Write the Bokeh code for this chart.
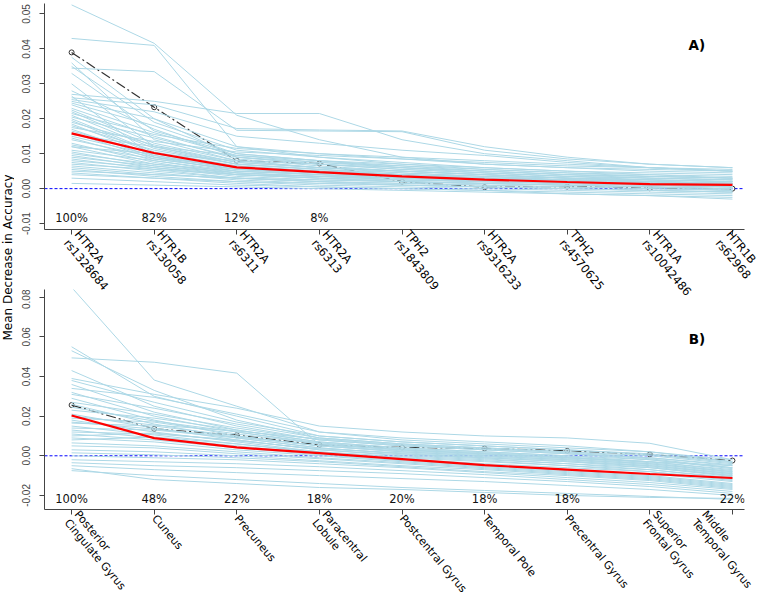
import math
from bokeh.plotting import figure
from bokeh.models import Range1d, FixedTicker, Span, Label, ColumnDataSource, NumeralTickFormatter
from bokeh.layouts import row, column
from bokeh.embed import file_html
from bokeh.resources import INLINE
from bokeh.core.properties import value

# ---------------- data ----------------
positions = [1, 2, 3, 4, 5, 6, 7, 8, 9]

snp_labels = ["HTR2A\nrs1328684", "HTR1B\nrs130058", "HTR2A\nrs6311", "HTR2A\nrs6313",
              "TPH2\nrs1843809", "HTR2A\nrs9316233", "TPH2\nrs4570625", "HTR1A\nrs10042486",
              "HTR1B\nrs62968"]
region_labels = ["Posterior\nCingulate Gyrus", "Cuneus", "Precuneus", "Paracentral\nLobule",
                 "Postcentral Gyrus", "Temporal Pole", "Precentral Gyrus", "Superior\nFrontal Gyrus",
                 "Middle\nTemporal Gyrus"]

a_percent = ["100%", "82%", "12%", "8%", "", "", "", "", ""]
b_percent = ["100%", "48%", "22%", "18%", "20%", "18%", "18%", "", "22%"]

# observed importance (black) and mean of permutations (red)
a_observed = [0.0390, 0.0233, 0.0080, 0.0072, 0.0020, 0.0004, 0.0006, 0.0001, 0.0000]
a_perm_mean = [0.0158, 0.0102, 0.0061, 0.0047, 0.0035, 0.0026, 0.0019, 0.0013, 0.0011]
b_observed = [0.0256, 0.0136, 0.0104, 0.0055, 0.0042, 0.0037, 0.0025, 0.0007, -0.0024]
b_perm_mean = [0.0203, 0.0089, 0.0042, 0.0013, -0.0017, -0.0047, -0.0070, -0.0092, -0.0112]

a_yticks = [-0.01, 0.0, 0.01, 0.02, 0.03, 0.04, 0.05]
b_yticks = [-0.02, 0.0, 0.02, 0.04, 0.06, 0.08]

# permutation runs (light blue), values in units of 0.001
a_perm_milli = [
    [52.6, 41.6, 21.0, 14.0, 9.0, 7.0, 6.0, 5.5, 5.0],
    [43.0, 41.0, 12.0, 9.0, 7.0, 6.0, 5.0, 4.5, 4.0],
    [34.5, 33.5, 16.7, 16.5, 16.3, 11.0, 8.5, 7.0, 6.0],
    [37.6, 20.0, 9.0, 7.0, 5.5, 4.5, 3.5, 3.0, 2.5],
    [36.0, 14.0, 8.0, 6.0, 5.0, 4.0, 3.0, 2.0, 1.5],
    [30.0, 12.0, 7.0, 5.5, 4.0, 3.0, 2.5, 2.0, 1.5],
    [27.0, 25.0, 21.5, 21.5, 14.0, 10.0, 8.0, 6.0, 5.0],
    [26.0, 24.0, 17.2, 16.8, 16.5, 12.0, 9.0, 7.0, 6.0],
    [25.5, 22.0, 15.0, 13.0, 11.0, 9.5, 7.5, 6.0, 5.0],
    [25.0, 20.0, 12.0, 10.0, 8.5, 7.0, 6.0, 5.0, 4.5],
    [24.5, 18.0, 10.0, 8.0, 6.0, 5.0, 4.0, 3.5, 3.0],
    [24.0, 16.0, 9.5, 7.5, 6.0, 4.5, 3.5, 3.0, 2.5],
    [23.0, 15.0, 8.5, 6.5, 5.0, 4.0, 3.0, 2.5, 2.0],
    [22.5, 13.0, 8.0, 6.0, 4.5, 3.5, 2.5, 2.0, 1.5],
    [22.0, 12.0, 7.5, 6.0, 5.0, 4.0, 3.0, 2.5, 2.0],
    [21.0, 11.5, 7.0, 5.5, 4.0, 3.0, 2.0, 1.5, 1.0],
    [20.5, 14.5, 9.0, 7.0, 5.5, 4.5, 3.5, 2.5, 2.0],
    [20.0, 10.5, 6.5, 5.0, 4.0, 3.0, 2.5, 2.0, 1.5],
    [19.5, 10.0, 6.0, 4.5, 3.5, 2.5, 2.0, 1.5, 1.0],
    [19.0, 12.5, 7.5, 6.0, 5.0, 4.0, 3.0, 2.0, 1.5],
    [18.5, 9.5, 5.5, 4.5, 3.5, 2.5, 1.5, 1.0, 0.5],
    [18.0, 11.0, 7.0, 5.5, 4.5, 3.5, 2.5, 2.0, 1.5],
    [17.0, 9.0, 5.0, 4.0, 3.0, 2.0, 1.5, 1.0, 0.5],
    [16.5, 10.0, 6.5, 5.0, 4.0, 3.0, 2.5, 2.0, 1.5],
    [16.0, 8.5, 5.5, 4.0, 3.0, 2.5, 2.0, 1.5, 1.0],
    [15.0, 9.5, 6.0, 5.0, 4.0, 3.0, 2.0, 1.5, 1.0],
    [14.5, 8.0, 4.5, 3.5, 2.5, 2.0, 1.5, 1.0, 0.5],
    [14.0, 9.0, 6.0, 4.5, 3.5, 3.0, 2.5, 2.0, 1.5],
    [13.0, 7.5, 4.0, 3.0, 2.0, 1.5, 1.0, 0.5, 0.0],
    [12.5, 8.5, 5.5, 4.5, 3.5, 2.5, 2.0, 1.5, 1.0],
    [12.0, 7.0, 4.5, 3.5, 2.5, 2.0, 1.5, 1.0, 0.5],
    [11.0, 8.0, 5.0, 4.0, 3.5, 2.5, 2.0, 1.5, 1.0],
    [10.5, 6.5, 4.0, 3.0, 2.0, 1.5, 1.0, 0.5, 0.0],
    [10.0, 7.0, 5.0, 4.0, 3.0, 2.5, 2.0, 1.5, 1.0],
    [9.5, 6.0, 3.5, 2.5, 2.0, 1.5, 1.0, 0.5, -0.5],
    [9.0, 6.5, 4.5, 3.5, 3.0, 2.0, 1.5, 1.0, 0.5],
    [8.5, 5.5, 3.0, 2.0, 1.5, 1.0, 0.5, 0.0, -0.5],
    [8.0, 6.0, 4.0, 3.0, 2.5, 2.0, 1.5, 1.0, 0.5],
    [7.5, 5.0, 3.0, 2.0, 1.0, 0.5, 0.0, -0.5, -1.0],
    [7.0, 5.5, 4.0, 3.5, 3.0, 2.5, 2.0, 1.5, 1.0],
    [6.5, 4.5, 2.5, 1.5, 1.0, 0.5, 0.0, -0.5, -1.0],
    [6.0, 4.0, 3.0, 2.5, 2.0, 1.5, 1.0, 0.5, 0.0],
    [5.5, 3.5, 2.0, 1.0, 0.5, 0.0, -0.5, -1.0, -1.5],
    [5.0, 4.0, 3.0, 2.0, 1.5, 1.0, 0.5, 0.0, -0.5],
    [4.5, 3.0, 1.5, 0.5, 0.0, -0.5, -1.0, -1.5, -2.0],
    [4.0, 3.0, 2.0, 1.5, 1.0, 0.5, 0.0, -0.5, -1.0],
    [3.0, 2.0, 1.0, 0.5, 0.0, -0.5, -1.5, -2.0, -2.5],
    [1.5, 1.0, 0.5, 0.0, -0.5, -1.0, -1.5, -2.0, -3.0],
    [17.5, 13.5, 10.5, 9.5, 8.5, 7.5, 6.5, 6.0, 5.5],
    [21.5, 15.5, 11.5, 10.0, 9.0, 8.0, 7.0, 6.0, 5.0],
    [28.0, 17.0, 9.0, 7.5, 6.5, 5.5, 4.5, 4.0, 3.5],
    [35.0, 19.0, 11.0, 9.0, 7.5, 6.0, 5.0, 4.0, 3.0],
    [12.0, 10.0, 8.0, 7.0, 6.0, 5.0, 4.0, 3.0, 2.5],
    [15.5, 12.0, 9.5, 8.0, 7.0, 5.5, 4.5, 3.5, 3.0],
    [26.5, 9.0, 6.0, 5.0, 4.0, 3.5, 3.0, 2.5, 2.0],
    [33.0, 16.5, 10.0, 8.0, 6.5, 5.0, 4.0, 3.5, 3.0],
]

b_perm_milli = [
    [85.0, 38.2, 25.0, 12.0, 8.0, 6.0, 4.0, 2.0, -2.0],
    [49.4, 47.2, 41.7, 5.5, 3.0, 1.0, -1.0, -3.0, -5.0],
    [55.0, 30.0, 20.0, 10.0, 7.0, 5.0, 3.0, 1.0, -3.0],
    [53.0, 33.0, 18.0, 9.0, 6.0, 4.0, 2.0, 0.0, -4.0],
    [39.0, 31.0, 24.0, 15.0, 12.0, 10.0, 9.0, 6.3, -2.0],
    [43.0, 25.0, 15.0, 8.0, 5.0, 3.0, 1.0, -1.0, -4.5],
    [38.0, 27.0, 17.0, 10.0, 7.0, 5.0, 3.0, 0.5, -3.5],
    [36.0, 22.0, 13.0, 7.0, 4.0, 2.0, 0.0, -2.0, -6.0],
    [34.0, 29.5, 21.0, 12.0, 9.0, 7.0, 5.0, 2.0, -3.0],
    [32.0, 20.0, 12.0, 6.0, 3.0, 1.0, -1.0, -3.0, -7.0],
    [31.0, 24.0, 16.0, 9.0, 6.0, 4.0, 2.0, -1.0, -5.0],
    [29.0, 18.0, 10.0, 5.0, 2.0, 0.0, -2.0, -4.0, -8.0],
    [27.0, 21.0, 14.0, 8.0, 5.0, 3.0, 1.0, -2.0, -6.5],
    [26.0, 16.0, 9.0, 4.0, 1.0, -1.0, -3.0, -5.0, -9.0],
    [23.0, 19.0, 13.0, 7.0, 4.0, 2.0, 0.0, -3.0, -7.5],
    [21.0, 14.0, 8.0, 3.0, 0.0, -2.0, -4.0, -6.0, -10.0],
    [19.0, 17.0, 11.0, 6.0, 3.0, 1.0, -1.0, -4.0, -8.5],
    [18.0, 12.0, 7.0, 2.0, -1.0, -3.0, -5.0, -7.0, -11.0],
    [16.5, 15.0, 10.0, 5.0, 2.0, 0.0, -2.0, -5.0, -9.5],
    [15.0, 10.5, 6.0, 1.5, -1.5, -4.0, -6.0, -8.0, -12.0],
    [14.0, 13.0, 9.0, 4.0, 1.0, -1.0, -3.0, -6.0, -10.5],
    [13.0, 9.0, 5.0, 1.0, -2.0, -4.5, -7.0, -9.0, -13.0],
    [12.0, 11.0, 8.0, 3.0, 0.5, -1.5, -4.0, -7.0, -11.5],
    [11.0, 8.0, 4.0, 0.5, -2.5, -5.0, -7.5, -10.0, -14.0],
    [9.0, 7.0, 3.0, 0.0, -3.0, -5.5, -8.0, -10.5, -14.5],
    [8.0, 9.5, 6.0, 2.0, -0.5, -2.5, -5.0, -8.0, -12.5],
    [6.5, 5.0, 2.0, -1.0, -3.5, -6.0, -8.5, -11.0, -15.0],
    [5.0, 4.0, 1.0, -1.5, -4.0, -6.5, -9.0, -11.5, -15.5],
    [3.0, 2.0, 0.0, -2.5, -5.0, -7.0, -9.5, -12.0, -16.0],
    [1.5, 0.5, -1.0, -3.0, -5.5, -8.0, -10.0, -12.5, -16.5],
    [0.0, -1.0, -2.0, -4.0, -6.0, -8.5, -11.0, -13.5, -17.0],
    [-2.0, -3.0, -4.0, -5.5, -7.5, -9.5, -12.0, -14.5, -18.0],
    [-3.5, -5.0, -6.0, -7.5, -9.0, -11.0, -13.0, -15.5, -19.0],
    [-5.0, -7.0, -8.5, -10.0, -11.5, -13.0, -15.0, -17.0, -20.0],
    [-7.5, -10.0, -12.0, -14.0, -16.0, -17.5, -19.0, -20.5, -22.0],
    [-6.5, -12.0, -14.0, -16.0, -17.0, -18.5, -20.0, -21.0, -21.5],
    [20.0, 15.5, 12.5, 8.5, 5.5, 3.5, 1.5, -1.5, -6.0],
    [17.0, 13.5, 9.5, 5.0, 2.5, 0.5, -1.5, -4.5, -9.0],
    [10.0, 11.5, 7.5, 3.5, 1.5, -0.5, -2.5, -5.5, -10.0],
    [24.5, 17.5, 12.0, 6.5, 3.5, 1.5, -0.5, -3.5, -8.0],
]

MILLI = 0.001
FONT = "DejaVu Sans"
TOTAL_W, TOTAL_H = 778, 602
TITLE_W = 14
PANEL_W = TOTAL_W - TITLE_W
SHIFT_L = TITLE_W            # panels slide left over the (transparent) title strip
BORDER_L = 44
BORDER_R = PANEL_W - BORDER_L - 700
X_RANGE = (0.672, 9.146)


def make_panel(labels, percents, observed, perm_mean, perm_milli, yticks, yr,
               pct_y, tag, tag_y, height, border_top, border_bottom, label_size):
    p = figure(width=PANEL_W, height=height, x_range=Range1d(*X_RANGE),
               y_range=Range1d(*yr), output_backend="svg", toolbar_location=None,
               min_border_left=BORDER_L, min_border_right=BORDER_R, min_border_top=border_top,
               min_border_bottom=border_bottom)
    p.xgrid.visible = False
    p.ygrid.visible = False
    p.outline_line_color = None
    p.background_fill_color = None
    p.border_fill_color = None

    xa = p.xaxis[0]
    xa.ticker = FixedTicker(ticks=positions, minor_ticks=[])
    xa.major_label_overrides = {pos: lab for pos, lab in zip(positions, labels)}
    xa.major_label_orientation = -50 * math.pi / 180
    xa.major_label_text_font = FONT
    xa.major_label_text_font_size = label_size
    xa.major_label_text_line_height = 1.0
    xa.major_label_text_color = "#000000"
    xa.major_label_standoff = 2
    xa.major_tick_out = 5
    xa.major_tick_in = 0
    xa.minor_tick_line_color = None
    xa.axis_line_color = "#444444"
    xa.major_tick_line_color = "#444444"

    ya = p.yaxis[0]
    ya.ticker = FixedTicker(ticks=yticks, minor_ticks=[])
    ya.formatter = NumeralTickFormatter(format="0.00")
    ya.major_label_orientation = "parallel"
    ya.major_label_text_font = "Liberation Sans"
    ya.major_label_text_font_size = "10px"
    ya.major_label_text_color = "#444444"
    ya.major_label_standoff = 9
    ya.major_tick_out = 5
    ya.major_tick_in = 0
    ya.minor_tick_line_color = None
    ya.axis_line_color = "#444444"
    ya.major_tick_line_color = "#444444"

    # zero reference line
    p.add_layout(Span(location=0, dimension="width", line_color="blue",
                      line_dash="3 2", line_width=1, level="underlay"))

    # observed
    p.line(positions, observed, line_color="#333333", line_width=1.2, line_dash="10 3 2 3")
    p.scatter(positions, observed, size=5, marker="circle", fill_color=None,
              line_color="#333333", line_width=1)

    # permutation runs
    xs = [positions for _ in perm_milli]
    ys = [[v * MILLI for v in run] for run in perm_milli]
    p.multi_line(xs=xs, ys=ys, line_color="#ADD8E6", line_width=1)

    # mean of permutations
    p.line(positions, perm_mean, line_color="red", line_width=2.2)

    # percentages
    src = ColumnDataSource(dict(x=positions, y=[pct_y] * len(positions), t=percents))
    p.text(x="x", y="y", text="t", source=src, text_align="center",
           text_baseline="middle", text_font=value(FONT), text_font_size="11.5px",
           text_color="#111111")

    p.add_layout(Label(x=8.57, y=tag_y, text=tag, text_align="center",
                       text_baseline="middle", text_font=FONT, text_font_size="13.5px",
                       text_font_style="bold", text_color="#000000"))
    return p


# panel A: frame y 3..229 ; panel B: frame y 289..510 (B overlaps A's spare bottom border)
A_BOTTOM = 86
A_H = 229 + A_BOTTOM
B_TOP = 289
B_BOTTOM = 93
B_H = 510 - B_TOP + B_BOTTOM
OVERLAP = A_H - B_TOP

pa = make_panel(snp_labels, a_percent, a_observed, a_perm_mean, a_perm_milli,
                a_yticks, (-0.0117, 0.0530), -0.0083, "A)", 0.0411, A_H, 3, A_BOTTOM, "11.5px")
pb = make_panel(region_labels, b_percent, b_observed, b_perm_mean, b_perm_milli,
                b_yticks, (-0.0271, 0.0839), -0.0218, "B)", 0.0588, B_H, 0, B_BOTTOM, "11px")
pb.styles = {"margin-top": f"-{OVERLAP}px"}

# shared y-axis title
pt = figure(width=TITLE_W, height=TOTAL_H, x_range=Range1d(0, 1), y_range=Range1d(0, 1),
            output_backend="svg", toolbar_location=None, min_border=0)
pt.axis.visible = False
pt.xgrid.visible = False
pt.ygrid.visible = False
pt.outline_line_color = None
pt.add_layout(Label(x=0.55, y=(TOTAL_H - 257) / TOTAL_H,
                    text="Mean Decrease in Accuracy", angle=90, angle_units="deg",
                    text_align="center", text_baseline="middle", text_font=FONT,
                    text_font_size="12px", text_color="#000000"))

panels = column(pa, pb)
panels.styles = {"margin-left": f"-{SHIFT_L}px"}
layout = row(pt, panels)
open("out.html", "w").write(file_html(layout, INLINE))
